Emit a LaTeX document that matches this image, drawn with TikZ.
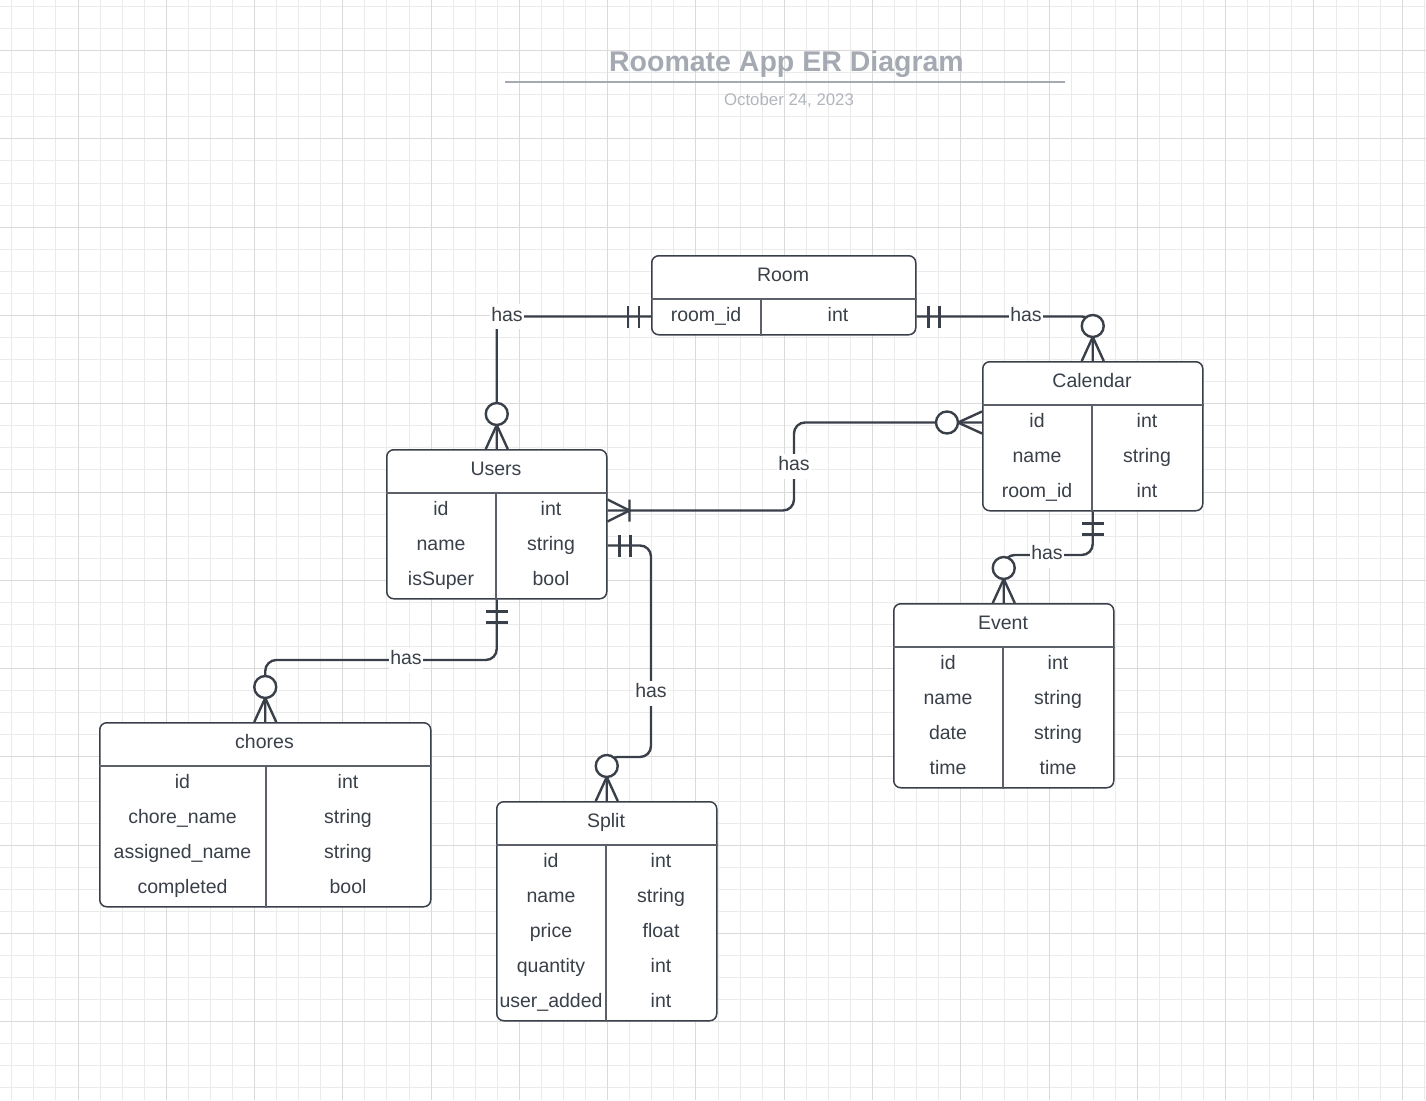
\documentclass[tikz,border=0pt]{standalone}
\usepackage{fontspec}
\setmainfont{Liberation Sans}
\usetikzlibrary{positioning,calc}

\definecolor{ink}{HTML}{3A4049}
\definecolor{lineink}{HTML}{5B6069}
\definecolor{titlegray}{HTML}{A5AAB2}
\definecolor{dategray}{HTML}{B2B6BC}
\definecolor{gridminor}{HTML}{EBEBEB}
\definecolor{gridmajor}{HTML}{DADADA}

\tikzset{
  entity/.style={draw=ink, fill=white, line width=1.5pt, rounded corners=7pt, inner sep=0pt, anchor=north west},
  field/.style={text=ink, font=\fontsize{19.5}{23}\selectfont, inner sep=0pt, text height=14pt, text depth=5pt},
  rowline/.style={draw=lineink, line width=1.2pt},
  relline/.style={draw=ink, line width=2.4pt, rounded corners=11pt},
  erline/.style={draw=ink, line width=2.4pt},
  lbl/.style={field, fill=white, inner xsep=1pt, inner ysep=3pt},
  zeromany/.pic={
    \draw[erline] (-11,0) -- (0,-24) -- (11,0);
    \draw[erline, fill=white] (0,-35) circle (11pt);
  },
  onemany/.pic={
    \draw[erline] (-11,0) -- (0,-22) -- (11,0) (-11,-22) -- (11,-22);
  },
  onlyone/.pic={
    \draw[erline] (-11,-12) -- (11,-12) (-11,-23) -- (11,-23);
  }
}

\begin{document}
\begin{tikzpicture}[x=1pt, y=-1pt]
\useasboundingbox (0,0) rectangle (1426,1100);
\fill[white] (0,0) rectangle (1426,1100);
\foreach \i in {0,...,64} {
  \pgfmathsetmacro\gx{round(11.3+22.07*\i)+0.5}
  \draw[gridminor, line width=1pt] (\gx,0) -- ++(0,1100);
}
\foreach \i in {0,...,49} {
  \pgfmathsetmacro\gy{round(6+22.07*\i)+0.5}
  \draw[gridminor, line width=1pt] (0,\gy) -- ++(1426,0);
}
\foreach \i in {3,7,...,63} {
  \pgfmathsetmacro\gx{round(11.3+22.07*\i)+0.5}
  \draw[gridmajor, line width=1pt] (\gx,0) -- ++(0,1100);
}
\foreach \i in {2,6,...,46} {
  \pgfmathsetmacro\gy{round(6+22.07*\i)+0.5}
  \draw[gridmajor, line width=1pt] (0,\gy) -- ++(1426,0);
}

\node[text=titlegray, font=\fontsize{28.5}{34}\selectfont\bfseries, anchor=base] (title) at (786.5,71) {Roomate App ER Diagram};
\draw[titlegray, line width=2pt] (505,82) -- (1065,82);
\node[text=dategray, font=\fontsize{16.8}{20}\selectfont, anchor=base] (date) at (789,105) {October 24, 2023};

\node[entity, minimum width=264pt, minimum height=79pt] (room) at (651,255) {};
\draw[rowline] ($(room.north west)+(0,44)$) -- ($(room.north east)+(0,44)$);
\draw[rowline] ($(room.north west)+(110,44)$) -- ($(room.south west)+(110,0)$);
\node[field] (roomtitle) at (783,276.5) {Room};
\node[field] (roomid) at (706,316.5) {room\_id};
\node[field] (roomidtype) at (838,316.5) {int};

\node[entity, minimum width=220pt, minimum height=149pt] (calendar) at (982,361) {};
\draw[rowline] ($(calendar.north west)+(0,44)$) -- ($(calendar.north east)+(0,44)$);
\draw[rowline] ($(calendar.north west)+(110,44)$) -- ($(calendar.south west)+(110,0)$);
\node[field] (caltitle) at (1092,382.5) {Calendar};
\node[field] (calid) at (1037,422.5) {id};
\node[field] (calidtype) at (1147,422.5) {int};
\node[field] (calname) at (1037,457.5) {name};
\node[field] (calnametype) at (1147,457.5) {string};
\node[field] (calroom) at (1037,492.5) {room\_id};
\node[field] (calroomtype) at (1147,492.5) {int};

\node[entity, minimum width=220pt, minimum height=149pt] (users) at (386,449) {};
\draw[rowline] ($(users.north west)+(0,44)$) -- ($(users.north east)+(0,44)$);
\draw[rowline] ($(users.north west)+(110,44)$) -- ($(users.south west)+(110,0)$);
\node[field] (userstitle) at (496,470.5) {Users};
\node[field] (usersid) at (441,510.5) {id};
\node[field] (usersidtype) at (551,510.5) {int};
\node[field] (usersname) at (441,545.5) {name};
\node[field] (usersnametype) at (551,545.5) {string};
\node[field] (userssuper) at (441,580.5) {isSuper};
\node[field] (userssupertype) at (551,580.5) {bool};

\node[entity, minimum width=331pt, minimum height=184pt] (chores) at (99,722) {};
\draw[rowline] ($(chores.north west)+(0,44)$) -- ($(chores.north east)+(0,44)$);
\draw[rowline] ($(chores.north west)+(167,44)$) -- ($(chores.south west)+(167,0)$);
\node[field] (chorestitle) at (264.5,743.5) {chores};
\node[field] (choresid) at (182.5,783.5) {id};
\node[field] (choresidtype) at (348,783.5) {int};
\node[field] (choresname) at (182.5,818.5) {chore\_name};
\node[field] (choresnametype) at (348,818.5) {string};
\node[field] (choresassigned) at (182.5,853.5) {assigned\_name};
\node[field] (choresassignedtype) at (348,853.5) {string};
\node[field] (choresdone) at (182.5,888.5) {completed};
\node[field] (choresdonetype) at (348,888.5) {bool};

\node[entity, minimum width=220pt, minimum height=219pt] (split) at (496,801) {};
\draw[rowline] ($(split.north west)+(0,44)$) -- ($(split.north east)+(0,44)$);
\draw[rowline] ($(split.north west)+(110,44)$) -- ($(split.south west)+(110,0)$);
\node[field] (splittitle) at (606,822.5) {Split};
\node[field] (splitid) at (551,862.5) {id};
\node[field] (splitidtype) at (661,862.5) {int};
\node[field] (splitname) at (551,897.5) {name};
\node[field] (splitnametype) at (661,897.5) {string};
\node[field] (splitprice) at (551,932.5) {price};
\node[field] (splitpricetype) at (661,932.5) {float};
\node[field] (splitqty) at (551,967.5) {quantity};
\node[field] (splitqtytype) at (661,967.5) {int};
\node[field] (splituser) at (551,1002.5) {user\_added};
\node[field] (splitusertype) at (661,1002.5) {int};

\node[entity, minimum width=220pt, minimum height=184pt] (event) at (893,603) {};
\draw[rowline] ($(event.north west)+(0,44)$) -- ($(event.north east)+(0,44)$);
\draw[rowline] ($(event.north west)+(110,44)$) -- ($(event.south west)+(110,0)$);
\node[field] (eventtitle) at (1003,624.5) {Event};
\node[field] (eventid) at (948,664.5) {id};
\node[field] (eventidtype) at (1058,664.5) {int};
\node[field] (eventname) at (948,699.5) {name};
\node[field] (eventnametype) at (1058,699.5) {string};
\node[field] (eventdate) at (948,734.5) {date};
\node[field] (eventdatetype) at (1058,734.5) {string};
\node[field] (eventtime) at (948,769.5) {time};
\node[field] (eventtimetype) at (1058,769.5) {time};

\draw[relline] (room.west |- roomid) -| (users.north);
\pic[rotate=90] at (room.west |- roomid) {onlyone};
\pic at (users.north) {zeromany};
\node[lbl] (has1) at (507,316.5) {has};

\draw[relline] (room.east |- roomid) -| (calendar.north);
\pic[rotate=-90] at (room.east |- roomid) {onlyone};
\pic at (calendar.north) {zeromany};
\node[lbl] (has2) at (1026,316.5) {has};

\draw[relline] (users.east |- usersid) -| (794,466) |- (calendar.west |- calid);
\pic[rotate=-90] at (users.east |- usersid) {onemany};
\pic[rotate=90] at (calendar.west |- calid) {zeromany};
\node[lbl] (has3) at (794,466) {has};

\draw[relline] (users.east |- usersname) -| (651,757) -| (split.north);
\pic[rotate=-90] at (users.east |- usersname) {onlyone};
\pic at (split.north) {zeromany};
\node[lbl] (has4) at (651,693) {has};

\draw[relline] (users.south) |- (406,660) -| (chores.north);
\pic[rotate=180] at (users.south) {onlyone};
\pic at (chores.north) {zeromany};
\node[lbl] (has5) at (406,660) {has};

\draw[relline] (calendar.south) |- (1047,555) -| (event.north);
\pic[rotate=180] at (calendar.south) {onlyone};
\pic at (event.north) {zeromany};
\node[lbl] (has6) at (1047,555) {has};
\end{tikzpicture}
\end{document}
